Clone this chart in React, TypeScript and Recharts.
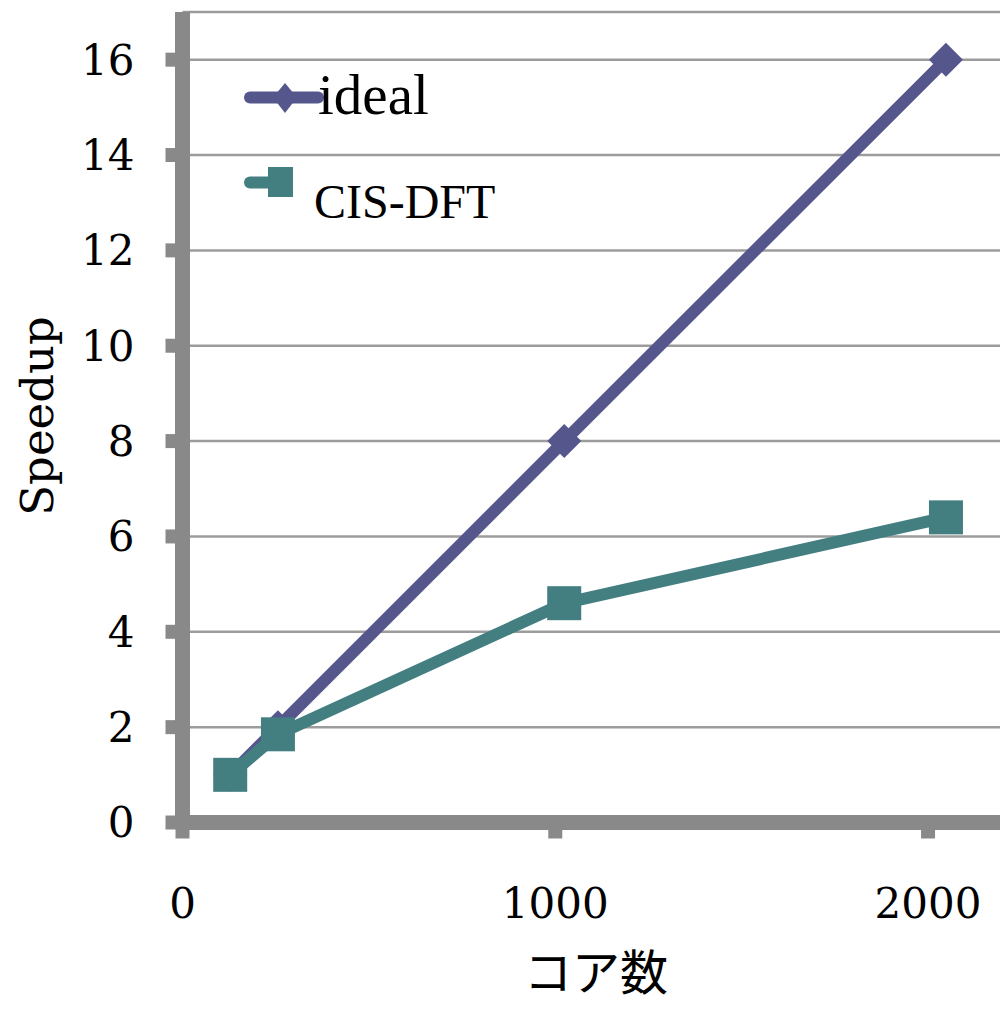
import { LineChart, Line, XAxis, YAxis, CartesianGrid, Legend } from 'recharts'

// data
const cores = [128, 256, 1024, 2048]
const ideal = [1, 2, 8, 16]
const cisDft = [1, 1.85, 4.6, 6.4]
const xTicks = [0, 1000, 2000]
const yTicks = [0, 2, 4, 6, 8, 10, 12, 14, 16]

const IDEAL_COLOR = '#55568c'
const CIS_COLOR = '#437e81'
const AXIS_GRAY = '#898989'
const X_MAX = 2193

const data = cores.map((c, i) => ({ cores: c, ideal: ideal[i], cis: cisDft[i] }))

const DiamondDot = ({ cx, cy }: any) => {
  if (cx == null || cy == null) return null
  const r = 17
  return <polygon points={`${cx},${cy - r} ${cx + r},${cy} ${cx},${cy + r} ${cx - r},${cy}`} fill={IDEAL_COLOR} />
}

const SquareDot = ({ cx, cy }: any) => {
  if (cx == null || cy == null) return null
  const h = 17
  return <rect x={cx - h} y={cy - h} width={h * 2} height={h * 2} fill={CIS_COLOR} />
}

const renderLegend = () => (
  <svg width={1000} height={240} style={{ display: 'block' }}>
    {/* ideal */}
    <line x1={250} y1={97.5} x2={318} y2={97.5} stroke={IDEAL_COLOR} strokeWidth={12} strokeLinecap="round" />
    <polygon points="285,83 297,97.5 285,113 273,97.5" fill={IDEAL_COLOR} />
    <text x={318} y={114} fontFamily="'Liberation Serif', serif" fontSize={57} fill="#000">ideal</text>
    {/* CIS-DFT */}
    <line x1={250} y1={182.5} x2={272} y2={182.5} stroke={CIS_COLOR} strokeWidth={12} strokeLinecap="round" />
    <rect x={268} y={167} width={25} height={30} fill={CIS_COLOR} />
    <text x={314} y={218} fontFamily="'Liberation Serif', serif" fontSize={48} fill="#000">CIS-DFT</text>
  </svg>
)

export default function App() {
  return (
    <div>
      <style>{'body{margin:0}'}</style>
      <LineChart width={1000} height={1009} data={data} margin={{ top: 12, right: 0, left: 0, bottom: 0 }}>
        <CartesianGrid vertical={false} stroke="#9c9c9c" strokeWidth={2.5} />
        <XAxis
          dataKey="cores"
          type="number"
          domain={[0, X_MAX]}
          ticks={xTicks}
          allowDataOverflow
          height={186.5}
          axisLine={{ stroke: AXIS_GRAY, strokeWidth: 15 }}
          tickLine={{ stroke: AXIS_GRAY, strokeWidth: 14 }}
          tickSize={16}
          tickMargin={50}
          tick={{ fill: '#000', fontSize: 42, fontFamily: "'DejaVu Serif', serif" }}
          label={{
            content: () => (
              <text x={596} y={990} textAnchor="middle" fontFamily="'Noto Sans CJK JP', sans-serif" fontSize={48} fill="#000">コア数</text>
            ),
          }}
        />
        <YAxis
          type="number"
          domain={[0, 17]}
          ticks={yTicks}
          width={182.5}
          axisLine={{ stroke: AXIS_GRAY, strokeWidth: 15 }}
          tickLine={{ stroke: AXIS_GRAY, strokeWidth: 14 }}
          tickSize={17}
          tickMargin={31}
          tick={{ fill: '#000', fontSize: 42, fontFamily: "'DejaVu Serif', serif" }}
          label={{
            content: () => (
              <text x={53} y={416} transform="rotate(-90, 53, 416)" textAnchor="middle" fontFamily="'DejaVu Serif', serif" fontSize={45} fill="#000">Speedup</text>
            ),
          }}
        />
        <Legend
          layout="vertical"
          align="center"
          verticalAlign="middle"
          content={renderLegend}
          wrapperStyle={{ left: 0, top: 0, width: 1000, height: 240 }}
        />
        <Line
          dataKey="ideal"
          name="ideal"
          stroke={IDEAL_COLOR}
          strokeWidth={12}
          dot={<DiamondDot />}
          activeDot={false}
          isAnimationActive={false}
        />
        <Line
          dataKey="cis"
          name="CIS-DFT"
          stroke={CIS_COLOR}
          strokeWidth={12}
          dot={<SquareDot />}
          activeDot={false}
          isAnimationActive={false}
        />
      </LineChart>
    </div>
  )
}
